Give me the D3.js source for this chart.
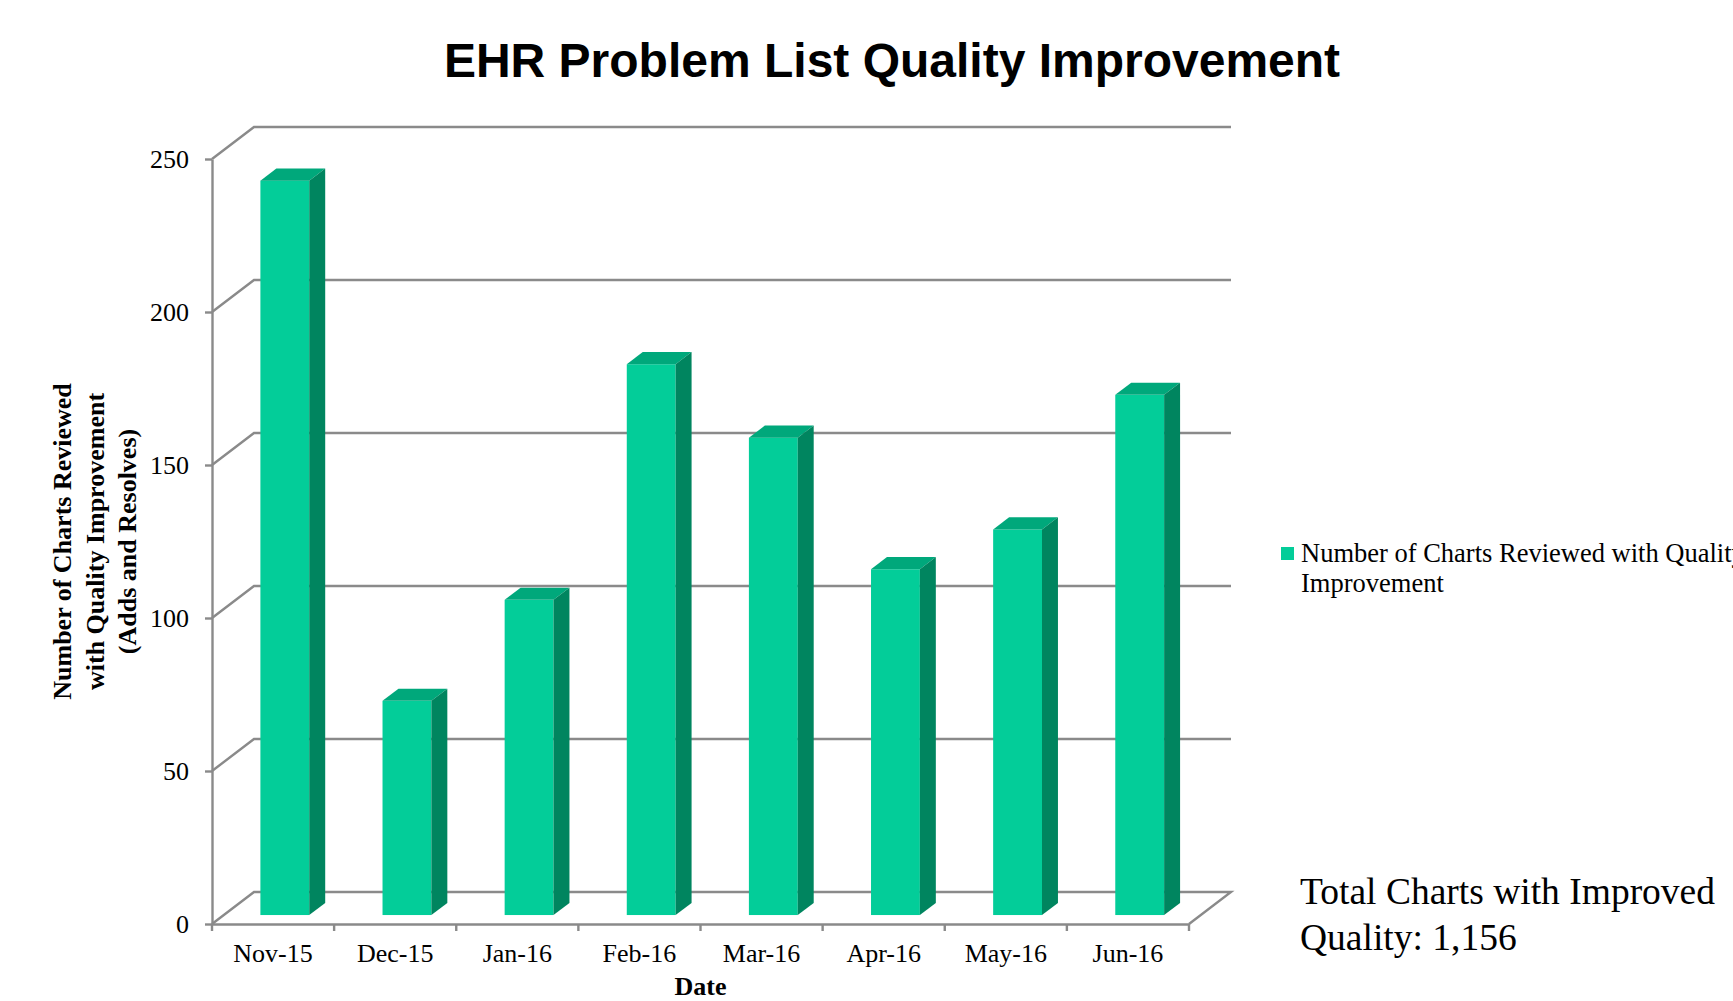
<!DOCTYPE html>
<html lang="en">

<head>
    <meta charset="UTF-8">
    <title>EHR Problem List Quality Improvement</title>
    <script src="https://d3js.org/d3.v7.min.js"></script>
    <style>
        body {
            margin: 0;
            padding: 0;
            background-color: #fff;
            overflow: hidden;
        }

        text {
            font-family: 'Liberation Serif', 'Times New Roman', serif;
            fill: #000;
        }

        .title {
            font-family: 'Liberation Sans', Arial, sans-serif;
            font-weight: bold;
            font-size: 48px;
        }

        .grid path,
        .axis path,
        .axis line,
        .xtick {
            fill: none;
            stroke: #8a8a8a;
            stroke-width: 2.4;
        }

        .axis-title {
            font-weight: bold;
            font-size: 26px;
        }
    </style>
</head>

<body>
    <div id="chart"></div>

    <script>
        const months = ["Nov-15", "Dec-15", "Jan-16", "Feb-16", "Mar-16", "Apr-16", "May-16", "Jun-16"];
        const charts = [240, 70, 103, 180, 156, 113, 126, 170];
        const yTicks = [0, 50, 100, 150, 200, 250];
        const seriesName = ["Number of Charts Reviewed with Quality", "Improvement"];
        const yTitle = ["Number of Charts Reviewed", "with Quality Improvement", "(Adds and Resolves)"];
        const totalLines = ["Total Charts with Improved", "Quality: 1,156"];

        const width = 1733, height = 1001;
        const plot = { left: 212, right: 1189, top: 159, bottom: 924 };
        const depth = { dx: 42, dy: -32 };
        const colors = { front: "#03cd99", top: "#00a87b", side: "#00855f" };

        const svg = d3.select("#chart").append("svg")
            .attr("width", width)
            .attr("height", height);

        const x = d3.scaleBand()
            .domain(months)
            .range([plot.left, plot.right]);

        const y = d3.scaleLinear()
            .domain([0, 250])
            .range([plot.bottom, plot.top]);

        // back wall gridlines and floor
        svg.append("g").attr("class", "grid")
            .selectAll("path")
            .data(yTicks)
            .enter()
            .append("path")
            .attr("d", t => {
                let p = `M${plot.left},${y(t)} L${plot.left + depth.dx},${y(t) + depth.dy} L${plot.right + depth.dx},${y(t) + depth.dy}`;
                if (t === 0) p += ` L${plot.right},${y(t)}`;
                return p;
            });

        // 3d bars
        const f1 = 0.28, f2 = 0.66, barFrac = 0.4;
        const bw = x.bandwidth() * barFrac;
        const ddx = (f2 - f1) * depth.dx, ddy = (f2 - f1) * depth.dy;

        const bars = svg.append("g").selectAll("g")
            .data(charts)
            .enter()
            .append("g");

        bars.each(function (d, i) {
            const g = d3.select(this);
            const bx = x(months[i]) + x.bandwidth() * (1 - barFrac) / 2 + f1 * depth.dx;
            const yb = y(0) + f1 * depth.dy;
            const yt = y(d) + f1 * depth.dy;
            g.append("rect")
                .attr("x", bx).attr("y", yt)
                .attr("width", bw).attr("height", yb - yt)
                .attr("fill", colors.front);
            g.append("polygon")
                .attr("points", [[bx, yt], [bx + ddx, yt + ddy], [bx + bw + ddx, yt + ddy], [bx + bw, yt]].join(" "))
                .attr("fill", colors.top);
            g.append("polygon")
                .attr("points", [[bx + bw, yt], [bx + bw + ddx, yt + ddy], [bx + bw + ddx, yb + ddy], [bx + bw, yb]].join(" "))
                .attr("fill", colors.side);
        });

        // y axis
        const yAxis = svg.append("g")
            .attr("class", "axis")
            .attr("transform", `translate(${plot.left},0)`)
            .call(d3.axisLeft(y).tickValues(yTicks).tickSize(7).tickSizeOuter(0).tickPadding(16));
        yAxis.selectAll("text")
            .attr("font-size", 26)
            .attr("font-family", "'Liberation Serif', serif");

        // x axis (labels centred, ticks on band edges)
        const xAxis = svg.append("g")
            .attr("class", "axis")
            .attr("transform", `translate(0,${plot.bottom})`)
            .call(d3.axisBottom(x).tickSize(0).tickSizeOuter(0).tickPadding(20));
        xAxis.selectAll("text")
            .attr("font-size", 26)
            .attr("font-family", "'Liberation Serif', serif");

        svg.append("g").selectAll("line")
            .data(months.map(m => x(m)).concat([plot.right]))
            .enter()
            .append("line")
            .attr("class", "xtick")
            .attr("x1", d => d).attr("x2", d => d)
            .attr("y1", plot.bottom).attr("y2", plot.bottom + 7);

        // titles
        svg.append("text")
            .attr("class", "title")
            .attr("x", 892)
            .attr("y", 77)
            .attr("text-anchor", "middle")
            .text("EHR Problem List Quality Improvement");

        svg.append("text")
            .attr("class", "axis-title")
            .attr("x", (plot.left + plot.right) / 2)
            .attr("y", 995)
            .attr("text-anchor", "middle")
            .text("Date");

        svg.append("g")
            .attr("transform", "rotate(-90)")
            .selectAll("text")
            .data(yTitle)
            .enter()
            .append("text")
            .attr("class", "axis-title")
            .attr("x", -(plot.top + plot.bottom) / 2)
            .attr("y", (d, i) => 71 + i * 32.5)
            .attr("text-anchor", "middle")
            .text(d => d);

        // legend (runs off the right edge, as in the original)
        svg.append("rect")
            .attr("x", 1281).attr("y", 547)
            .attr("width", 13).attr("height", 13)
            .attr("fill", colors.front);

        svg.append("g").selectAll("text")
            .data(seriesName)
            .enter()
            .append("text")
            .attr("x", 1301)
            .attr("y", (d, i) => 562 + i * 30)
            .attr("font-size", 26.5)
            .text(d => d);

        // total note
        svg.append("g").selectAll("text")
            .data(totalLines)
            .enter()
            .append("text")
            .attr("x", 1300)
            .attr("y", (d, i) => 904 + i * 46)
            .attr("font-size", 37.5)
            .text(d => d);
    </script>
</body>

</html>
